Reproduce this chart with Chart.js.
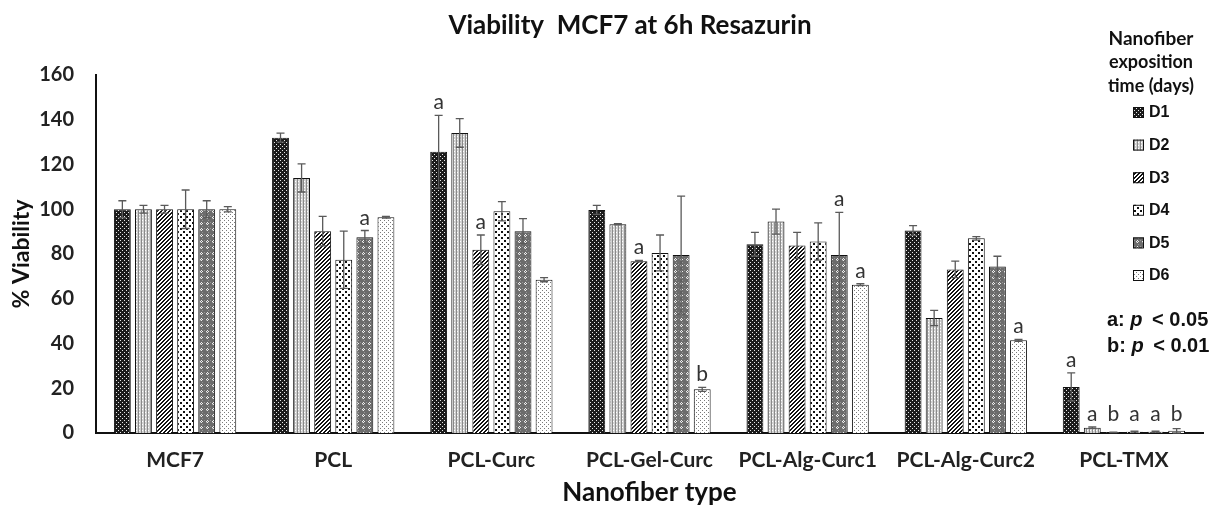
<!DOCTYPE html>
<html lang="en">
<head>
  <meta charset="UTF-8">
  <title>Viability MCF7 at 6h Resazurin</title>
  <script src="https://cdn.jsdelivr.net/npm/chart.js"></script>
  <style>
    body { margin: 0; background: #fff; }
    #wrap { width: 1223px; height: 510px; position: relative; }
  </style>
</head>
<body>
  <div id="wrap"><canvas id="chart"></canvas></div>

  <script>
    const categories = ['MCF7', 'PCL', 'PCL-Curc', 'PCL-Gel-Curc', 'PCL-Alg-Curc1', 'PCL-Alg-Curc2', 'PCL-TMX'];
    const dayLabels = ['D1', 'D2', 'D3', 'D4', 'D5', 'D6'];

    // mean % viability per nanofiber type, one array per exposition day
    const d1 = [100, 132, 125.7, 99.7, 84.4, 90.5, 20.6];
    const d2 = [100, 114, 134.1, 93.3, 94.5, 51.4, 2.4];
    const d3 = [100, 90.2, 81.9, 76.8, 83.8, 73.1, 0.3];
    const d4 = [100, 77.4, 99.1, 80.5, 85.6, 87.0, 0.6];
    const d5 = [100, 87.5, 90.2, 79.5, 79.6, 74.4, 0.6];
    const d6 = [100, 96.4, 68.5, 19.5, 66.3, 41.4, 1.0];

    // standard deviations
    const d1Err = [3.8, 2.0, 16.3, 2.0, 5.3, 2.2, 6.3];
    const d2Err = [1.7, 6.3, 6.4, 0.3, 5.6, 3.4, 0.3];
    const d3Err = [1.7, 6.6, 6.6, 0.3, 5.9, 3.7, 0.1];
    const d4Err = [8.6, 12.8, 4.3, 8.0, 8.3, 0.8, 0.2];
    const d5Err = [3.8, 3.0, 5.6, 26.4, 19.0, 4.6, 0.2];
    const d6Err = [1.2, 0.4, 0.9, 0.9, 0.4, 0.4, 1.0];

    // significance letters (a: p < 0.05, b: p < 0.01)
    const d1Sig = ['', '', 'a', '', '', '', 'a'];
    const d2Sig = ['', '', '', '', '', '', 'a'];
    const d3Sig = ['', '', 'a', 'a', '', '', 'b'];
    const d4Sig = ['', '', '', '', '', '', 'a'];
    const d5Sig = ['', 'a', '', '', 'a', '', 'a'];
    const d6Sig = ['', '', '', 'b', 'a', 'a', 'b'];

    const values = [d1, d2, d3, d4, d5, d6];
    const errors = [d1Err, d2Err, d3Err, d4Err, d5Err, d6Err];
    const sigs = [d1Sig, d2Sig, d3Sig, d4Sig, d5Sig, d6Sig];

    const FONT = 'Lato, "Open Sans", sans-serif';
    const ARIAL = '"Liberation Sans", Arial, sans-serif';

    // small tiles used as bar fills
    function tile(size, draw) {
      const c = document.createElement('canvas');
      c.width = size; c.height = size;
      const g = c.getContext('2d');
      draw(g, size);
      return g.createPattern(c, 'repeat');
    }

    const patterns = [
      // D1: dark with white dots
      tile(4, (g) => {
        g.fillStyle = '#1c1c1c'; g.fillRect(0, 0, 4, 4);
        g.fillStyle = '#e8e8e8'; g.fillRect(0, 0, 1, 1); g.fillRect(2, 2, 1, 1);
      }),
      // D2: light grey fine grid
      tile(3, (g) => {
        g.fillStyle = '#d2d2d2'; g.fillRect(0, 0, 3, 3);
        g.fillStyle = '#8a8a8a'; g.fillRect(0, 0, 1, 3);
        g.fillStyle = '#ffffff'; g.fillRect(1, 1, 1, 1);
      }),
      // D3: diagonal stripes
      tile(4, (g) => {
        g.fillStyle = '#ffffff'; g.fillRect(0, 0, 4, 4);
        g.fillStyle = '#111';
        for (let i = 0; i < 4; i++) { g.fillRect(3 - i, i, 1, 1); g.fillRect((4 - i) % 4, i, 1, 1); }
      }),
      // D4: white with black confetti dots
      tile(6, (g) => {
        g.fillStyle = '#ffffff'; g.fillRect(0, 0, 6, 6);
        g.fillStyle = '#111';
        g.fillRect(0, 0, 2, 2); g.fillRect(3, 3, 2, 2); g.fillRect(1, 1, 1, 1); g.fillRect(4, 4, 1, 1);
      }),
      // D5: mid grey with light crosses
      tile(6, (g) => {
        g.fillStyle = '#6c6c6c'; g.fillRect(0, 0, 6, 6);
        g.fillStyle = '#959595'; g.fillRect(0, 0, 1, 1); g.fillRect(2, 2, 1, 1); g.fillRect(4, 4, 1, 1);
        g.fillStyle = '#eeeeee'; g.fillRect(3, 0, 1, 1); g.fillRect(2, 1, 1, 1); g.fillRect(4, 1, 1, 1); g.fillRect(3, 2, 1, 1);
      }),
      // D6: white with sparse grey dots
      tile(4, (g) => {
        g.fillStyle = '#ffffff'; g.fillRect(0, 0, 4, 4);
        g.fillStyle = '#7a7a7a'; g.fillRect(0, 0, 1, 1); g.fillRect(2, 2, 1, 1);
      })
    ];

    const datasets = values.map((v, i) => ({
      label: dayLabels[i],
      data: v,
      backgroundColor: patterns[i],
      borderColor: '#111',
      borderWidth: 1,
      categoryPercentage: 0.8,
      barPercentage: 0.8
    }));

    // error bars and significance letters
    const errorBars = {
      id: 'errorBars',
      afterDatasetsDraw(chart) {
        const ctx = chart.ctx;
        const y = chart.scales.y;
        ctx.save();
        chart.data.datasets.forEach((ds, di) => {
          const meta = chart.getDatasetMeta(di);
          meta.data.forEach((bar, i) => {
            const v = values[di][i], e = errors[di][i];
            const yTop = y.getPixelForValue(v + e);
            const yBot = y.getPixelForValue(Math.max(0, v - e));
            ctx.strokeStyle = '#5a5a5a';
            ctx.lineWidth = 1.3;
            ctx.beginPath();
            ctx.moveTo(bar.x, yBot); ctx.lineTo(bar.x, yTop);
            ctx.moveTo(bar.x - 4, yTop); ctx.lineTo(bar.x + 4, yTop);
            ctx.moveTo(bar.x - 4, yBot); ctx.lineTo(bar.x + 4, yBot);
            ctx.stroke();
            const s = sigs[di][i];
            if (s) {
              const top = Math.min(yTop, y.getPixelForValue(v));
              ctx.fillStyle = '#333';
              ctx.font = '21px ' + FONT;
              ctx.textAlign = 'center';
              ctx.textBaseline = 'alphabetic';
              ctx.fillText(s, bar.x, Math.min(top - 6, y.getPixelForValue(0) - 12));
            }
          });
        });
        ctx.restore();
      }
    };

    // title, legend block and p-value key
    const annotations = {
      id: 'annotations',
      afterDraw(chart) {
        const ctx = chart.ctx;
        ctx.save();
        ctx.fillStyle = '#111';
        ctx.textAlign = 'center';
        ctx.textBaseline = 'middle';
        ctx.font = 'bold 26px ' + FONT;
        ctx.fillText('Viability  MCF7 at 6h Resazurin', 630, 26);

        ctx.font = 'bold 19px ' + FONT;
        ctx.fillText('Nanofiber', 1151, 39);
        ctx.font = 'bold 18px ' + FONT;
        ctx.fillText('exposition', 1151, 62);
        ctx.fillText('time (days)', 1151, 86);

        ctx.textAlign = 'left';
        ctx.font = 'bold 16px ' + ARIAL;
        dayLabels.forEach((d, i) => {
          const cy = 112 + i * 32.6;
          ctx.fillStyle = patterns[i];
          ctx.fillRect(1133, cy - 5, 11, 11);
          ctx.strokeStyle = '#111';
          ctx.lineWidth = 1;
          ctx.strokeRect(1133.5, cy - 4.5, 10, 10);
          ctx.fillStyle = '#111';
          ctx.fillText(d, 1149, cy + 1);
        });

        const key = [['a: ', ' < 0.05', 320], ['b: ', ' < 0.01', 346]];
        key.forEach(([pre, post, cy]) => {
          let x = 1107;
          ctx.font = 'bold 20px ' + ARIAL;
          ctx.fillText(pre, x, cy);
          x += ctx.measureText(pre).width;
          ctx.font = 'italic bold 20px ' + ARIAL;
          ctx.fillText('p', x, cy);
          x += ctx.measureText('p').width + 4;
          ctx.font = 'bold 20px ' + ARIAL;
          ctx.fillText(post, x, cy);
        });
        ctx.restore();
      }
    };

    new Chart(document.getElementById('chart'), {
      type: 'bar',
      data: { labels: categories, datasets },
      options: {
        responsive: true,
        maintainAspectRatio: false,
        animation: false,
        layout: { padding: { top: 75, right: 20, left: 0, bottom: 2 } },
        plugins: {
          legend: { display: false },
          tooltip: { enabled: false }
        },
        scales: {
          x: {
            afterFit: (s) => { s.height = 75; },
            grid: { display: false, drawTicks: false },
            border: { color: '#111', width: 2 },
            ticks: { color: '#222', padding: 15, maxRotation: 0, font: { family: FONT, size: 21, weight: 'bold' } },
            title: {
              display: true, text: 'Nanofiber type', color: '#111',
              font: { family: FONT, size: 26, weight: 'bold' }, padding: { top: 4, bottom: 0 }
            }
          },
          y: {
            afterFit: (s) => { s.width = 96; },
            min: 0, max: 160,
            grid: { display: false, drawTicks: false },
            border: { color: '#111', width: 2 },
            ticks: { stepSize: 20, color: '#222', padding: 22, font: { family: FONT, size: 20, weight: 'bold' } },
            title: {
              display: true, text: '% Viability', color: '#111',
              font: { family: FONT, size: 23, weight: 'bold' }, padding: { top: 8, bottom: 6 }
            }
          }
        }
      },
      plugins: [errorBars, annotations]
    });
  </script>
</body>
</html>
